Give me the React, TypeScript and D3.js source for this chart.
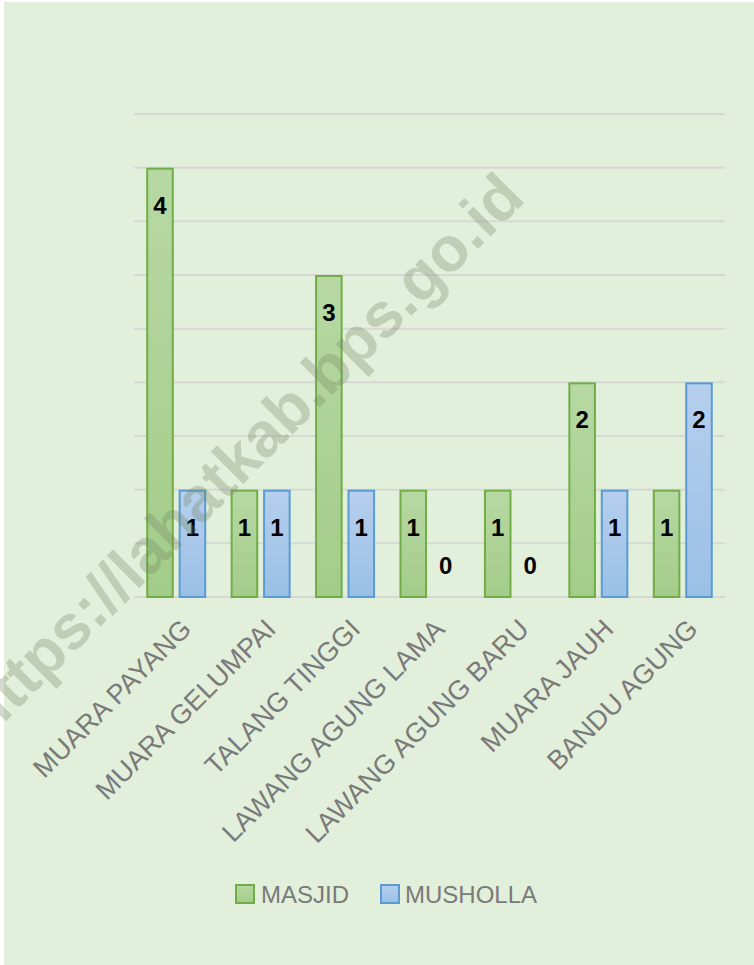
import React from "react";
import * as d3 from "d3";

const categories = [
  "MUARA PAYANG",
  "MUARA GELUMPAI",
  "TALANG TINGGI",
  "LAWANG AGUNG LAMA",
  "LAWANG AGUNG BARU",
  "MUARA JAUH",
  "BANDU AGUNG",
];
const masjid = [4, 1, 3, 1, 1, 2, 1];
const musholla = [1, 1, 1, 0, 0, 1, 2];
const seriesNames = ["MASJID", "MUSHOLLA"];
const gridTicks = [0, 0.5, 1, 1.5, 2, 2.5, 3, 3.5, 4, 4.5];
const watermark = "https://lahatkab.bps.go.id";

const W = 754;
const H = 965;
const FONT = "'Liberation Sans', Arial, sans-serif";

export default function App() {
  const x0 = d3.scaleBand<string>().domain(categories).range([134, 725]).paddingInner(0).paddingOuter(0);
  const x1 = d3.scaleBand<string>().domain(seriesNames).range([0, 60]).paddingInner(0.15);
  const y = d3.scaleLinear().domain([0, 4.5]).range([597, 114]);

  const fills = ["url(#gGreen)", "url(#gBlue)"];
  const strokes = ["#70ad47", "#5b9bd5"];
  const data = [masjid, musholla];
  const bw = x0.bandwidth();

  return (
    <svg width={W} height={H} style={{ position: "absolute", left: 0, top: 0 }} fontFamily={FONT}>
      <defs>
        <linearGradient id="gGreen" x1="0" y1="0" x2="0" y2="1">
          <stop offset="0" stopColor="#b7d8a3" />
          <stop offset="1" stopColor="#a3cc89" />
        </linearGradient>
        <linearGradient id="gBlue" x1="0" y1="0" x2="0" y2="1">
          <stop offset="0" stopColor="#b6cfed" />
          <stop offset="1" stopColor="#9ac0e6" />
        </linearGradient>
      </defs>
      <rect x={0} y={0} width={W} height={H} fill="#ffffff" />
      <rect x={4} y={2} width={W - 4} height={H - 2} fill="#e2efda" />
      {gridTicks.map((t) => (
        <line key={t} x1={134} x2={725} y1={y(t)} y2={y(t)} stroke="#d6d8d4" strokeWidth={2} />
      ))}
      {categories.map((c, i) => {
        const gx = (x0(c) as number) + (bw - 60) / 2;
        return (
          <g key={c}>
            {seriesNames.map((s, k) => {
              const v = data[k][i];
              const bx = gx + (x1(s) as number);
              const w = x1.bandwidth();
              const top = y(v);
              const cx = bx + w / 2;
              const labelY = v > 0 ? top + 46 : y(0) - 23;
              return (
                <g key={s}>
                  {v > 0 && (
                    <rect
                      x={bx + 1}
                      y={top + 1}
                      width={w - 2}
                      height={y(0) - top - 1}
                      fill={fills[k]}
                      stroke={strokes[k]}
                      strokeWidth={2}
                    />
                  )}
                  <text x={cx} y={labelY} textAnchor="middle" fontWeight="bold" fontSize={24} fill="#000">
                    {v}
                  </text>
                </g>
              );
            })}
          </g>
        );
      })}
      {categories.map((c) => {
        const cx = (x0(c) as number) + bw / 2;
        const ax = cx + 10;
        const ay = 624;
        return (
          <text
            key={c}
            x={ax}
            y={ay}
            textAnchor="end"
            dy="0.35em"
            fontSize={27}
            fill="#7a7a7a"
            transform={`rotate(-45 ${ax} ${ay})`}
          >
            {c}
          </text>
        );
      })}
      <g>
        <rect x={236} y={885} width={18} height={18} fill="url(#gGreen)" stroke="#70ad47" strokeWidth={2} />
        <text x={261} y={903} fontSize={24} fill="#7a7a7a">
          {seriesNames[0]}
        </text>
        <rect x={381} y={885} width={18} height={18} fill="url(#gBlue)" stroke="#5b9bd5" strokeWidth={2} />
        <text x={405} y={903} fontSize={24} fill="#7a7a7a">
          {seriesNames[1]}
        </text>
      </g>
      <text
        x={527}
        y={200}
        textAnchor="end"
        fontWeight="bold"
        fontSize={63}
        fill="#6f8160"
        fillOpacity={0.3}
        transform="rotate(-45 527 200)"
      >
        {watermark}
      </text>
    </svg>
  );
}
